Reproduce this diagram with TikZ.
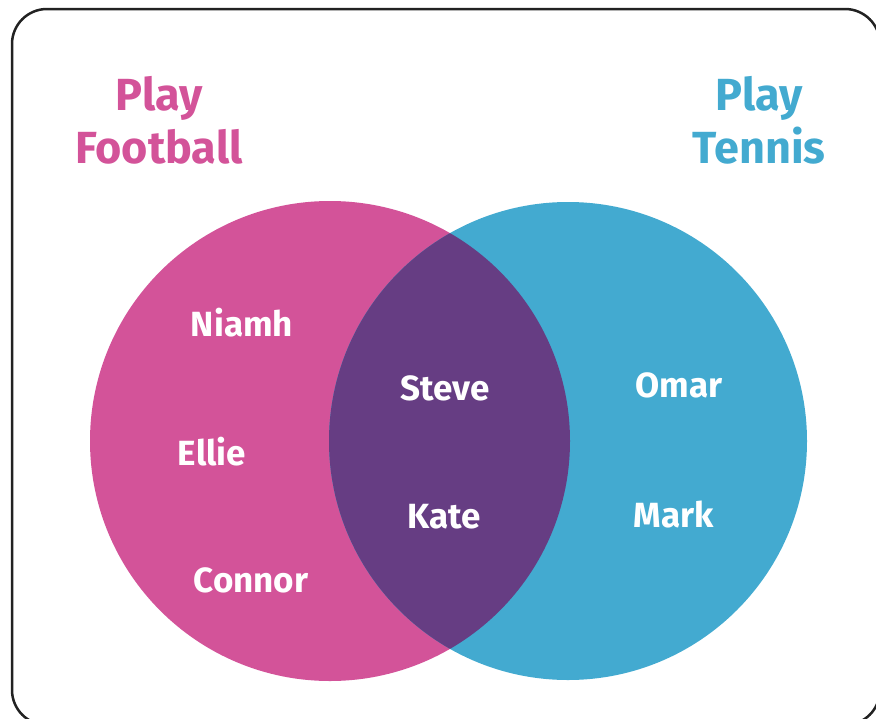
\documentclass[tikz,border=0pt]{standalone}
\usepackage{fontspec}
\setmainfont{Fira Sans}
\usepackage{tikz}
\usetikzlibrary{positioning}
\definecolor{palPink}{HTML}{D35399}
\definecolor{palBlue}{HTML}{43AAD0}
\definecolor{palPurple}{HTML}{663D83}
\definecolor{palFrame}{HTML}{222222}

\begin{document}
\begin{tikzpicture}[
  x=1pt, y=-1pt,
  setlabel/.style={font=\fontsize{45}{53}\selectfont\bfseries, anchor=base, inner sep=0pt},
  footlabel/.style={setlabel, text=palPink},
  tennislabel/.style={setlabel, text=palBlue},
  person/.style={font=\fontsize{35}{40}\selectfont\bfseries, text=white, anchor=base, inner sep=0pt},
]
\useasboundingbox (0,0) rectangle (876,718);
\begin{scope}
  \clip (0,0) rectangle (876,718);
  \draw[palFrame, line width=2.5pt, rounded corners=35pt] (12,9) rectangle (880,725);
\end{scope}

% the two sets and their overlap
\fill[palPink] (330,441) circle (240);
\fill[palBlue] (568,441) circle (239);
\begin{scope}
  \clip (330,441) circle (240);
  \fill[palPurple] (568,441) circle (239);
\end{scope}

\node[footlabel] (footPlay) at (159,110) {Play};
\node[footlabel] (footName) at (159,163) {Football};
\node[tennislabel] (tennisPlay) at (759,110) {Play};
\node[tennislabel] (tennisName) at (759,163) {Tennis};

\node[person] (niamh) at (242,336) {Niamh};
\node[person] (ellie) at (212,465) {Ellie};
\node[person] (connor) at (251,592) {Connor};
\node[person] (steve) at (445,400) {Steve};
\node[person] (kate) at (444,528) {Kate};
\node[person] (omar) at (679,397) {Omar};
\node[person] (mark) at (674,527) {Mark};
\end{tikzpicture}
\end{document}
